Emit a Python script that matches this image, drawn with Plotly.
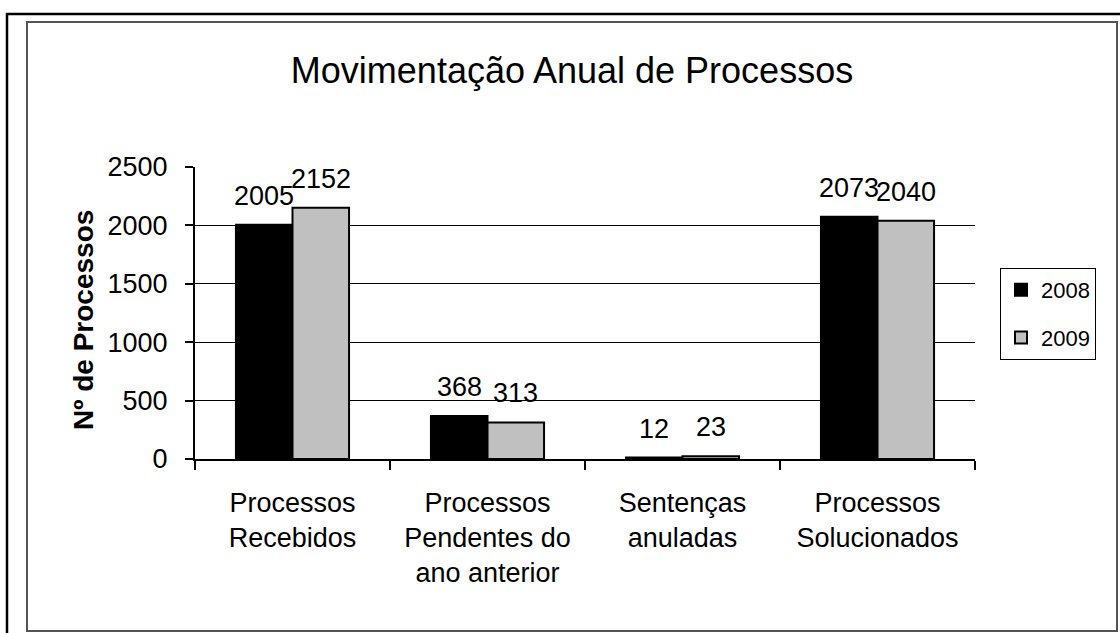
import plotly.graph_objects as go

categories = ["Processos<br>Recebidos", "Processos<br>Pendentes do<br>ano anterior",
              "Sentenças<br>anuladas", "Processos<br>Solucionados"]
series_names = ["2008", "2009"]
values_2008 = [2005, 368, 12, 2073]
values_2009 = [2152, 313, 23, 2040]
y_ticks = [0, 500, 1000, 1500, 2000, 2500]

FONT = "Liberation Sans, Arial, sans-serif"
W, H = 1120, 633
ML, MR, MT, MB = 195, 145, 167, 174
PW = W - ML - MR
PH = H - MT - MB
BARGAP = 0.42


def px_x(p):
    return (p - ML) / PW


def px_y(p):
    return (H - MB - p) / PH


fig = go.Figure()
fig.add_trace(go.Bar(
    x=categories, y=values_2008, name=series_names[0], legendgroup="a",
    marker=dict(color="#000000", line=dict(color="#000000", width=2)),
))
fig.add_trace(go.Bar(
    x=categories, y=values_2009, name=series_names[1], legendgroup="b",
    marker=dict(color="#C0C0C0", line=dict(color="#000000", width=2)),
))

# data labels above each bar
cat_w = PW / len(categories)
bar_w = cat_w * (1 - BARGAP) / 2
for vals, sign in ((values_2008, -1), (values_2009, 1)):
    for c, v in zip(categories, vals):
        fig.add_annotation(x=c, y=v, text=str(v), showarrow=False,
                           xshift=sign * bar_w / 2, yshift=12, yanchor="bottom",
                           font=dict(family=FONT, size=27, color="#000000"))

# y axis title
fig.add_annotation(xref="paper", yref="paper", x=px_x(83), y=px_y(320),
                   text="<b>Nº de Processos</b>", textangle=-90, showarrow=False,
                   xanchor="center", yanchor="middle",
                   font=dict(family=FONT, size=28, color="#000000"))

# outer and inner frames
fig.add_shape(type="rect", xref="paper", yref="paper",
              x0=px_x(7), y0=px_y(14), x1=px_x(1130), y1=px_y(645),
              line=dict(color="#000000", width=2.5), layer="below")
fig.add_shape(type="rect", xref="paper", yref="paper",
              x0=px_x(27), y0=px_y(22), x1=px_x(1117), y1=px_y(631),
              line=dict(color="#555555", width=2), layer="below")

fig.update_layout(
    width=W, height=H, autosize=False,
    margin=dict(l=ML, r=MR, t=MT, b=MB, pad=0),
    paper_bgcolor="#FFFFFF", plot_bgcolor="#FFFFFF",
    barmode="group", bargap=BARGAP, bargroupgap=0,
    font=dict(family=FONT, color="#000000"),
    title=dict(text="Movimentação Anual de Processos", x=572 / W,
               y=1 - 70 / H, xanchor="center", yanchor="middle",
               font=dict(family=FONT, size=36, color="#000000")),
    legend=dict(x=px_x(1000), y=px_y(268), xanchor="left", yanchor="top",
                bordercolor="#000000", borderwidth=1, bgcolor="#FFFFFF",
                font=dict(family=FONT, size=22, color="#000000"),
                traceorder="grouped", tracegroupgap=16),
    showlegend=True,
)
fig.update_xaxes(
    showline=True, linecolor="#000000", linewidth=1.5,
    ticks="outside", tickson="boundaries", ticklen=9, tickwidth=1.5, tickcolor="#000000",
    tickfont=dict(family=FONT, size=27, color="#000000"),
    ticklabelstandoff=19, showgrid=False,
)
fig.update_yaxes(
    range=[0, 2500], tickvals=y_ticks, ticktext=[str(t) for t in y_ticks],
    showline=True, linecolor="#000000", linewidth=2,
    ticks="outside", ticklen=8, tickwidth=1.5, tickcolor="#000000",
    showgrid=True, gridcolor="#000000", gridwidth=1, zeroline=False,
    tickfont=dict(family=FONT, size=27, color="#000000"),
    ticklabelstandoff=12,
)

fig.write_html("out.html", config={"displayModeBar": False},
               post_script="document.body.style.margin='0';document.body.style.overflow='hidden';")
